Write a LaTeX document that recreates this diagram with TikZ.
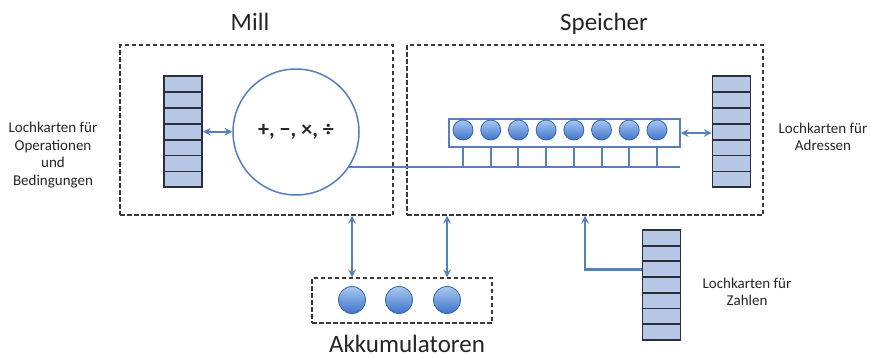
\documentclass[tikz,border=0pt]{standalone}
\usepackage{fontspec}
\setmainfont{Carlito}
\usetikzlibrary{arrows}
\usetikzlibrary{positioning}

\definecolor{linkblue}{HTML}{5580BC}
\definecolor{cardfill}{HTML}{B7C8E6}
\definecolor{cardedge}{HTML}{2B2F3A}
\definecolor{boxedge}{HTML}{3A3A3A}
\definecolor{ballhi}{HTML}{A8C8F2}
\definecolor{balllo}{HTML}{3E74C8}

\begin{document}
\begin{tikzpicture}[x=1pt,y=-1pt,
    card/.style={draw=cardedge,fill=cardfill,line width=1.8pt,
      minimum width=38pt,minimum height=15.9pt,inner sep=0pt},
    unit/.style={draw=boxedge,line width=1.5pt,dash pattern=on 4.5pt off 2.5pt},
    ball/.style={circle,draw=balllo!85!black,line width=0.8pt,top color=ballhi,bottom color=balllo,inner sep=0pt},
    link/.style={draw=linkblue,line width=2.4pt},
    bigtext/.style={font=\fontsize{25}{30}\selectfont,anchor=base,text=black!85},
    smalltext/.style={font=\fontsize{15}{17.5}\selectfont,align=center,text=black!85}]
    \fill[white] (0,0) rectangle (870,357);
    \useasboundingbox (0,0) rectangle (870,357);

    % the three units
    \node[unit,minimum width=273pt,minimum height=170pt] (mill) at (256.5,130) {};
    \node[unit,minimum width=356pt,minimum height=170pt] (speicher) at (585,130) {};
    \node[unit,minimum width=180pt,minimum height=45pt] (acc) at (402,300.5) {};
    \node[bigtext] (milllabel) at (250,30) {Mill};
    \node[bigtext] (speicherlabel) at (604,30) {Speicher};
    \node[bigtext] (acclabel) at (407,352) {Akkumulatoren};

    % punched card stacks
    \foreach \i in {1,...,7} {
      \node[card] (op\i) at (183,{68.1+15.9*\i}) {};
      \node[card] (adr\i) at (731.5,{68.1+15.9*\i}) {};
      \node[card] (num\i) at (661.5,{222.2+15.7*\i}) {};
    }

    % mill
    \node[circle,draw=linkblue,line width=1.5pt,minimum size=126pt,
      font=\fontsize{22}{26}\selectfont\bfseries,text=black!85] (alu) at (296,132) {+, −, ×, ÷};

    % store
    \node[draw=linkblue,line width=1.5pt,minimum width=231pt,minimum height=28pt,inner sep=0pt] (reg) at (564.5,133) {};
    \foreach \i in {1,...,8}
      \node[ball,minimum size=20pt] (mem\i) at ({435.3+27.7*\i},130) {};
    \coordinate (busend) at (680,167);
    \draw[link] (alu.-33.7) -- (alu.-33.7 -| busend);
    \foreach \i in {1,...,8}
      \draw[link,line width=2pt] (mem\i |- reg.south) -- (mem\i |- busend);

    % accumulators
    \foreach \i/\x in {1/352,2/399,3/447}
      \node[ball,minimum size=27pt] (acc\i) at (\x,300) {};

    \path[<->,>=stealth,every edge/.style=link]
      (op4.east) edge (op4.east -| alu.west)
      (reg.east) edge (reg.east -| adr4.west)
      (acc1 |- mill.south) edge (acc1 |- acc.north)
      (acc3 |- speicher.south) edge (acc3 |- acc.north);
    \draw[link,->,>=stealth] (num3.west) -| (speicher.south);

    \node[smalltext] (oplabel) at (53,155) {Lochkarten für\\Operationen\\und\\Bedingungen};
    \node[smalltext] (adrlabel) at (823,137) {Lochkarten für\\Adressen};
    \node[smalltext] (numlabel) at (747,292) {Lochkarten für\\Zahlen};
  \end{tikzpicture}
\end{document}
